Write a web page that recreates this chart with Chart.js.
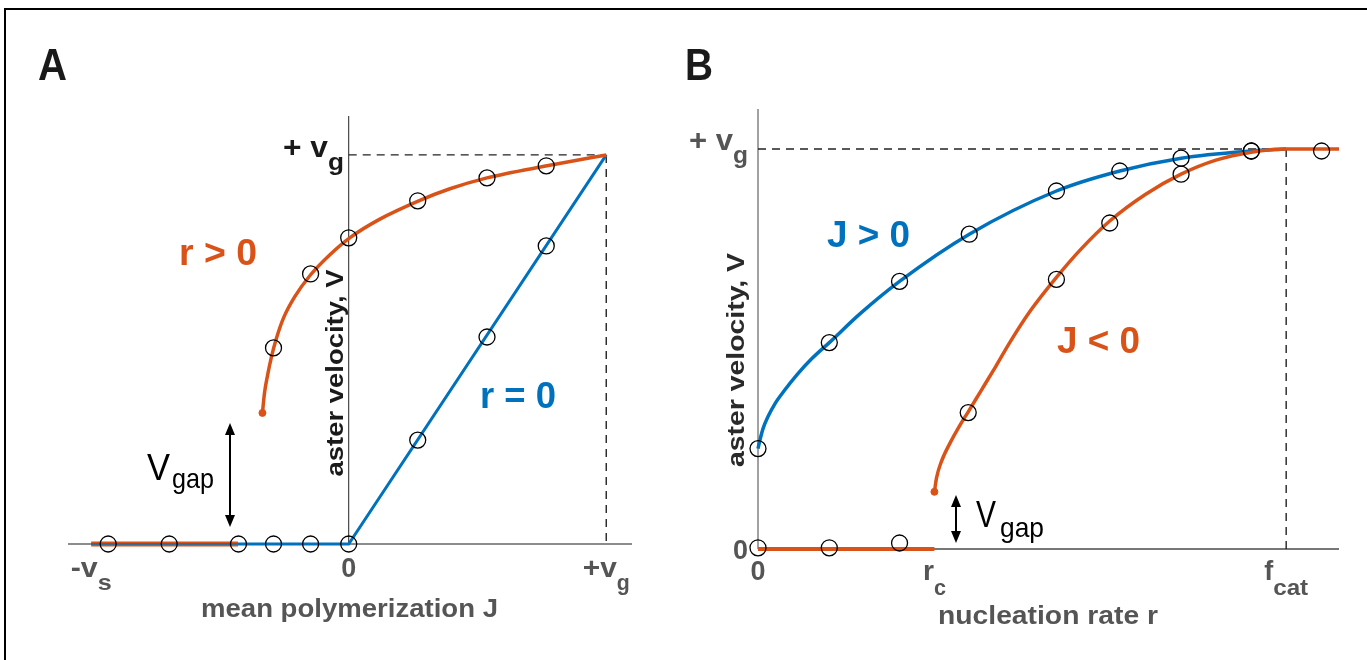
<!DOCTYPE html>
<html>
<head>
<meta charset="utf-8">
<title>Aster velocity</title>
<script src="https://cdn.jsdelivr.net/npm/chart.js@4.4.1/dist/chart.umd.min.js"></script>
<style>
  body { margin: 0; background: #fff; }
  #wrap { position: relative; width: 1367px; height: 660px; overflow: hidden; }
  #frame { position: absolute; left: 4px; top: 8px; width: 1370px; height: 660px;
           border-top: 2px solid #000; border-left: 2px solid #000; }
  canvas { position: absolute; top: 0; }
</style>
</head>
<body>
<div id="wrap">
  <div id="frame"></div>
  <canvas id="chartA" width="683" height="660" style="left:0px"></canvas>
  <canvas id="chartB" width="684" height="660" style="left:683px"></canvas>
</div>
<script>
// ---------- panel A : velocity vs mean polymerization J (units of v_g, v_s) ----------
const jTickVals = [-1, 0, 1];
const jTickMain = ['-v', '0', '+v'];
const jTickSub  = ['s', '', 'g'];

// r = 0 (blue): flat for J < 0, then straight to +v_g
const aBlueJ = [-1, 0, 1];
const aBlueV = [0, 0, 1];

// r > 0 (orange): lower flat branch and upper branch
const aLowJ = [-1, -0.43];
const aLowV = [0, 0];
const aUpJ = [-0.335, -0.327, -0.315, -0.300, -0.280, -0.253, -0.210, -0.148, -0.074,
              0.004, 0.121, 0.272, 0.393, 0.537, 0.770, 1];
const aUpV = [0.337, 0.388, 0.434, 0.481, 0.530, 0.581, 0.635, 0.692, 0.743,
              0.787, 0.835, 0.882, 0.913, 0.941, 0.972, 1];

// simulation circles
const aSimJ = [-0.934, -0.697, -0.428, -0.292, -0.148, 0,
               -0.292, -0.148, 0, 0.268, 0.537, 0.767,
               0.268, 0.537, 0.767];
const aSimV = [0, 0, 0, 0, 0, 0,
               0.504, 0.694, 0.787, 0.882, 0.941, 0.972,
               0.267, 0.532, 0.766];

// ---------- panel B : velocity vs nucleation rate r (units of f_cat) ----------
const rTickVals = [0, 0.334, 1];
const rTickMain = ['0', 'r', 'f'];
const rTickSub  = ['', 'c', 'cat'];

// J > 0 (blue)
const bPosR = [0, 0.0038, 0.0095, 0.019, 0.032, 0.051, 0.074, 0.102, 0.135, 0.194,
               0.268, 0.400, 0.565, 0.685, 0.801, 0.934, 1];
const bPosV = [0.251, 0.273, 0.301, 0.331, 0.363, 0.398, 0.436, 0.476, 0.516, 0.589,
               0.669, 0.787, 0.895, 0.945, 0.977, 0.995, 1];

// J < 0 (orange): flat up to r_c, then upper branch
const bLowR = [0, 0.334];
const bLowV = [0, 0];
const bNegR = [0.334, 0.338, 0.347, 0.364, 0.383, 0.398, 0.421, 0.450, 0.478, 0.516,
               0.565, 0.611, 0.666, 0.734, 0.801, 0.867, 0.934, 1, 1.1];
const bNegV = [0.143, 0.178, 0.218, 0.266, 0.311, 0.343, 0.393, 0.456, 0.519, 0.596,
               0.679, 0.749, 0.820, 0.887, 0.937, 0.972, 0.992, 1, 1];

// simulation circles
const bSimR = [0, 0.135, 0.268, 0.400, 0.565, 0.685, 0.801, 0.934,
               0.398, 0.565, 0.666, 0.801, 0.934, 1.067,
               0, 0.135, 0.268];
const bSimV = [0.251, 0.516, 0.669, 0.787, 0.895, 0.945, 0.977, 0.995,
               0.341, 0.674, 0.815, 0.937, 0.995, 0.995,
               0.003, 0.003, 0.015];

const ORANGE = '#D95319';
const BLUE = '#0072BD';
const FONT = 'Liberation Sans, Arial, sans-serif';

function pts(xs, ys) { return xs.map((x, i) => ({ x: x, y: ys[i] })); }

// text squeezed/stretched horizontally to a target width
function fit(ctx, s, x0, x1, base, font, color) {
  ctx.save();
  ctx.font = font;
  ctx.fillStyle = color;
  ctx.textAlign = 'left';
  ctx.textBaseline = 'alphabetic';
  const w = ctx.measureText(s).width;
  ctx.translate(x0, base);
  ctx.scale((x1 - x0) / w, 1);
  ctx.fillText(s, 0, 0);
  ctx.restore();
}

function fitRotated(ctx, s, base, cy, len, font, color) {
  ctx.save();
  ctx.font = font;
  ctx.fillStyle = color;
  ctx.textAlign = 'left';
  ctx.textBaseline = 'alphabetic';
  const w = ctx.measureText(s).width;
  ctx.translate(base, cy + len / 2);
  ctx.rotate(-Math.PI / 2);
  ctx.scale(len / w, 1);
  ctx.fillText(s, 0, 0);
  ctx.restore();
}

function dblArrow(ctx, x, y0, y1) {
  ctx.save();
  ctx.strokeStyle = '#000';
  ctx.fillStyle = '#000';
  ctx.lineWidth = 2;
  ctx.beginPath();
  ctx.moveTo(x, y0 + 8);
  ctx.lineTo(x, y1 - 8);
  ctx.stroke();
  ctx.beginPath();
  ctx.moveTo(x, y0); ctx.lineTo(x - 5, y0 + 12); ctx.lineTo(x + 5, y0 + 12); ctx.closePath();
  ctx.fill();
  ctx.beginPath();
  ctx.moveTo(x, y1); ctx.lineTo(x - 5, y1 - 12); ctx.lineTo(x + 5, y1 - 12); ctx.closePath();
  ctx.fill();
  ctx.restore();
}

// x tick labels with subscripts, widths as in the figure
function xTicks(chart, vals, mains, subs, wMain, wSub, base, subBase) {
  const ctx = chart.ctx;
  const sx = chart.scales.x;
  vals.forEach((v, i) => {
    const px = sx.getPixelForValue(v);
    const left = px - (wMain[i] + wSub[i]) / 2;
    fit(ctx, mains[i], left, left + wMain[i], base, 'bold 28px ' + FONT, '#555');
    if (subs[i]) {
      fit(ctx, subs[i], left + wMain[i], left + wMain[i] + wSub[i], subBase, 'bold 22px ' + FONT, '#555');
    }
  });
}

function lineSet(data, color, width, order, extra) {
  return Object.assign({
    data: data, showLine: true, borderColor: color, borderWidth: width,
    pointRadius: 0, fill: false, clip: false, order: order,
    cubicInterpolationMode: 'monotone'
  }, extra || {});
}

function circleSet(data) {
  return {
    data: data, showLine: false, pointRadius: 8, pointHoverRadius: 8,
    pointBorderColor: '#000', pointBorderWidth: 1.3,
    pointBackgroundColor: 'rgba(0,0,0,0)', clip: false, order: 0
  };
}

function dotSet(x, y) {
  return {
    data: [{ x: x, y: y }], showLine: false, pointRadius: 3.5,
    pointBackgroundColor: ORANGE, pointBorderColor: ORANGE, clip: false, order: 0
  };
}

function baseOptions(pad, xmin, xmax) {
  return {
    responsive: false,
    animation: false,
    events: [],
    layout: { padding: pad },
    plugins: { legend: { display: false }, tooltip: { enabled: false } },
    scales: {
      x: { type: 'linear', min: xmin, max: xmax, display: false },
      y: { type: 'linear', min: 0, max: 1.1, display: false }
    }
  };
}

const straight = { cubicInterpolationMode: 'default', tension: 0 };
const dash = { borderDash: [8, 6], cubicInterpolationMode: 'default', tension: 0 };

// ---- chart A ----
const axesA = {
  id: 'axesA',
  beforeDatasetsDraw(chart) {
    const ctx = chart.ctx, a = chart.chartArea;
    const x0 = chart.scales.x.getPixelForValue(0);
    const y0 = chart.scales.y.getPixelForValue(0);
    ctx.save();
    ctx.strokeStyle = '#666'; ctx.lineWidth = 1.5;
    ctx.beginPath(); ctx.moveTo(a.left, y0); ctx.lineTo(a.right, y0); ctx.stroke();
    ctx.strokeStyle = '#222'; ctx.lineWidth = 1;
    ctx.beginPath(); ctx.moveTo(x0, a.top); ctx.lineTo(x0, y0); ctx.stroke();
    ctx.restore();
  },
  afterDraw(chart) {
    const ctx = chart.ctx;
    fit(ctx, 'A', 38, 67, 80, 'bold 44px ' + FONT, '#1a1a1a');
    fit(ctx, '+ v', 283, 328, 157, 'bold 30px ' + FONT, '#1a1a1a');
    fit(ctx, 'g', 328, 344, 170, 'bold 24px ' + FONT, '#1a1a1a');
    xTicks(chart, jTickVals, jTickMain, jTickSub, [27, 15, 34], [14, 0, 13], 577, 590);
    fit(ctx, 'mean polymerization J', 201, 498, 617, 'bold 25px ' + FONT, '#555');
    fitRotated(ctx, 'aster velocity, V', 343, 373, 207, 'bold 24px ' + FONT, '#1a1a1a');
    fit(ctx, 'r > 0', 179, 257, 265, 'bold 37px ' + FONT, ORANGE);
    fit(ctx, 'r = 0', 480, 556, 408, 'bold 37px ' + FONT, BLUE);
    fit(ctx, 'V', 147, 170, 480, '36px ' + FONT, '#000');
    fit(ctx, 'gap', 172, 214, 488, '28px ' + FONT, '#000');
    dblArrow(ctx, 230, 423, 527);
  }
};

new Chart(document.getElementById('chartA'), {
  type: 'scatter',
  data: {
    datasets: [
      circleSet(pts(aSimJ, aSimV)),
      dotSet(aUpJ[0], aUpV[0]),
      lineSet(pts(aLowJ, aLowV), BLUE, 1.5, 1, straight),
      lineSet(pts(aUpJ, aUpV), ORANGE, 3.5, 2),
      lineSet(pts(aLowJ, aLowV), ORANGE, 5, 3, straight),
      lineSet(pts(aBlueJ, aBlueV), BLUE, 3, 4, straight),
      lineSet(pts([0, 1], [1, 1]), '#222', 1.4, 5, dash),
      lineSet(pts([1, 1], [1, 0]), '#222', 1.4, 5, dash)
    ]
  },
  options: baseOptions({ left: 68, right: 51, top: 116, bottom: 116 }, -1.09, 1.1),
  plugins: [axesA]
});

// ---- chart B ----
const axesB = {
  id: 'axesB',
  beforeDatasetsDraw(chart) {
    const ctx = chart.ctx, a = chart.chartArea;
    const x0 = chart.scales.x.getPixelForValue(0);
    const y0 = chart.scales.y.getPixelForValue(0);
    ctx.save();
    ctx.strokeStyle = '#777'; ctx.lineWidth = 2;
    ctx.beginPath(); ctx.moveTo(x0, y0); ctx.lineTo(a.right, y0); ctx.stroke();
    ctx.strokeStyle = '#444'; ctx.lineWidth = 1;
    ctx.beginPath(); ctx.moveTo(x0, a.top); ctx.lineTo(x0, y0); ctx.stroke();
    ctx.restore();
  },
  afterDraw(chart) {
    const ctx = chart.ctx;
    const o = 683;
    fit(ctx, 'B', 685 - o, 713 - o, 80, 'bold 44px ' + FONT, '#1a1a1a');
    fit(ctx, '+ v', 689 - o, 733 - o, 150, 'bold 30px ' + FONT, '#555');
    fit(ctx, 'g', 733 - o, 748 - o, 163, 'bold 24px ' + FONT, '#555');
    fit(ctx, '0', 733 - o, 748 - o, 559, 'bold 28px ' + FONT, '#555');
    xTicks(chart, rTickVals, rTickMain, rTickSub, [15, 11, 9], [0, 12, 35], 580, 595);
    fit(ctx, 'nucleation rate r', 938 - o, 1158 - o, 624, 'bold 25px ' + FONT, '#555');
    fitRotated(ctx, 'aster velocity, V', 744 - o, 360, 214, 'bold 24px ' + FONT, '#2a2a2a');
    fit(ctx, 'J > 0', 827 - o, 910 - o, 247, 'bold 37px ' + FONT, BLUE);
    fit(ctx, 'J < 0', 1057 - o, 1140 - o, 353, 'bold 37px ' + FONT, ORANGE);
    fit(ctx, 'V', 976 - o, 996 - o, 527, '36px ' + FONT, '#000');
    fit(ctx, 'gap', 1000 - o, 1044 - o, 537, '28px ' + FONT, '#000');
    dblArrow(ctx, 956 - o, 495, 543);
  }
};

new Chart(document.getElementById('chartB'), {
  type: 'scatter',
  data: {
    datasets: [
      circleSet(pts(bSimR, bSimV)),
      dotSet(bNegR[0], bNegV[0]),
      lineSet(pts(bNegR, bNegV), ORANGE, 3.5, 1),
      lineSet(pts(bLowR, bLowV), ORANGE, 4, 1, straight),
      lineSet(pts(bPosR, bPosV), BLUE, 3.5, 2),
      lineSet(pts([0, 1], [1, 1]), '#222', 1.4, 5, dash),
      lineSet(pts([1, 1], [1, 0]), '#222', 1.4, 5, dash)
    ]
  },
  options: baseOptions({ left: 75, right: 28, top: 109, bottom: 111 }, 0, 1.1),
  plugins: [axesB]
});
</script>
</body>
</html>
